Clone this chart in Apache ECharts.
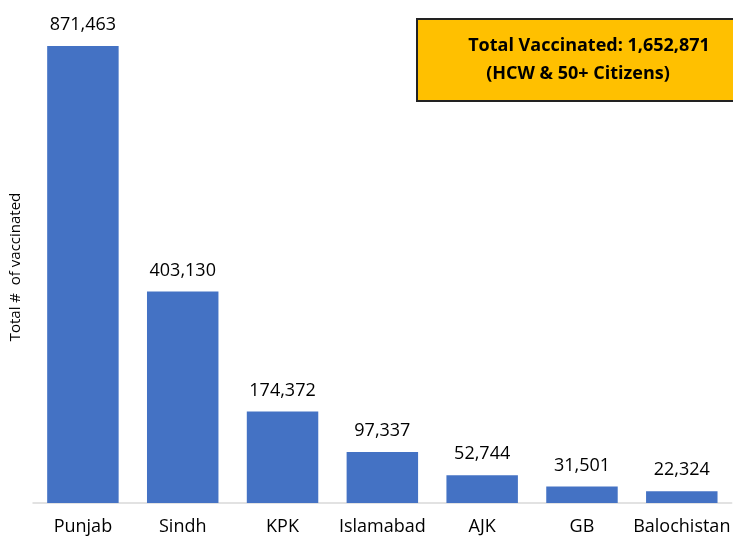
<!DOCTYPE html>
<html><head><meta charset="utf-8">
<script src="https://cdn.jsdelivr.net/npm/echarts@6/dist/echarts.min.js"></script>
<style>html,body{margin:0;padding:0;background:#fff}#c{width:733px;height:542px}</style>
</head><body><div id="c"></div>
<script>
const categories = ["Punjab","Sindh","KPK","Islamabad","AJK","GB","Balochistan"];
const vaccinated = [871463,403130,174372,97337,52744,31501,22324];
const axisTitle = "Total #  of vaccinated";
const boxLines = ["Total Vaccinated: 1,652,871","(HCW & 50+ Citizens)"];

const chart = echarts.init(document.getElementById('c'), null, {renderer:'canvas'});
const font = "'Open Sans', 'Liberation Sans', sans-serif";
chart.setOption({
  animation:false,
  grid:{left:28.5, right:0, top:31, bottom:39},
  xAxis:{type:'category', data:categories,
    axisLine:{show:true, lineStyle:{color:'#d9d9d9', width:1.5}},
    axisTick:{show:false},
    axisLabel:{color:'#000', fontSize:18, fontFamily:font, margin:15, interval:0}},
  yAxis:{type:'value', min:0, max:900000, show:true,
    axisLine:{show:false}, axisTick:{show:false}, axisLabel:{show:false}, splitLine:{show:false},
    name:axisTitle, nameLocation:'middle', nameGap:10, nameRotate:90,
    nameTextStyle:{color:'#000', fontSize:15, fontFamily:font}},
  series:[{type:'bar', data:vaccinated, barWidth:'71.6%',
    itemStyle:{color:'#4472C4'},
    label:{show:true, position:'top', distance:12, color:'#000', fontSize:18, fontFamily:font,
      formatter:p=>p.value.toLocaleString('en-US')}}],
  graphic:[
    {type:'rect', shape:{x:417, y:19, width:320, height:82},
      style:{fill:'#FFC000', stroke:'#222', lineWidth:2}},
    {type:'text', style:{x:589, y:46, text:boxLines[0], textAlign:'center', textVerticalAlign:'middle',
      font:"bold 18px "+font, fill:'#000'}},
    {type:'text', style:{x:578, y:74, text:boxLines[1], textAlign:'center', textVerticalAlign:'middle',
      font:"bold 18px "+font, fill:'#000'}}
  ]
});
</script></body></html>
